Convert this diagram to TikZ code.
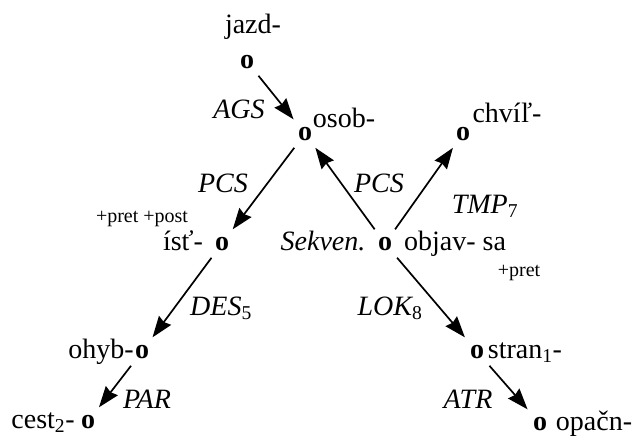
\documentclass[tikz,border=0pt]{standalone}
\usepackage{fontspec}
\setmainfont{Liberation Serif}
\usetikzlibrary{arrows.meta}
\newcommand{\lsub}[1]{\textsubscript{\upshape #1}}
\begin{document}
\begin{tikzpicture}[x=1pt,y=-1pt,
  pt/.style={inner sep=0.5pt, outer sep=7pt, anchor=base, font=\fontsize{28}{28}\selectfont\bfseries},
  lbl/.style={inner sep=0pt, anchor=base, font=\fontsize{28}{30}\selectfont},
  rel/.style={inner sep=0pt, anchor=base, font=\fontsize{28}{30}\selectfont\itshape},
  small/.style={inner sep=0pt, anchor=base, font=\fontsize{20}{22}\selectfont},
  edge/.style={line width=1.7pt, -{Stealth[length=21pt,width=15pt,inset=2pt]}}]
\useasboundingbox (0,0) rectangle (634,437);
% nodes
\node[pt] (jazd) at (247,68) {o};
\node[pt] (osob) at (305,140) {o};
\node[pt] (chvil) at (463,140) {o};
\node[pt] (ist) at (222,250) {o};
\node[pt] (objav) at (385,250) {o};
\node[pt] (ohyb) at (142,358) {o};
\node[pt] (cest) at (88,428) {o};
\node[pt] (stran) at (477,358) {o};
\node[pt] (opacn) at (540,430) {o};
% word labels
\node[lbl] (tjazd) at (253,33) {jazd-};
\node[lbl] (tosob) at (344,127) {osob-};
\node[lbl] (tchvil) at (507,122) {chvíľ-};
\node[lbl] (tist) at (183,250) {ísť-};
\node[small] (tpp) at (142,222) {+pret +post};
\node[rel] (tsek) at (323,250) {Sekven.};
\node[lbl] (tobjav) at (455,250) {objav- sa};
\node[small] (tpret) at (519,276) {+pret};
\node[lbl] (tohyb) at (101,358) {ohyb-};
\node[lbl] (tcest) at (43,428) {cest\lsub{2}-};
\node[lbl] (tstran) at (525,358) {stran\lsub{1}-};
\node[lbl] (topacn) at (594,430) {opačn-};
% relation labels
\node[rel] (lags) at (239,118) {AGS};
\node[rel] (lpcs1) at (223,192) {PCS};
\node[rel] (lpcs2) at (379,192) {PCS};
\node[rel] (ltmp) at (485,213) {TMP\lsub{7}};
\node[rel] (ldes) at (221,315) {DES\lsub{5}};
\node[rel] (llok) at (390,315) {LOK\lsub{8}};
\node[rel] (lpar) at (147,408) {PAR};
\node[rel] (latr) at (468,408) {ATR};
% edges
\draw[edge] (jazd) -- (osob);
\draw[edge] (osob) -- (ist);
\draw[edge] (objav) -- (osob);
\draw[edge] (objav) -- (chvil);
\draw[edge] (ist) -- (ohyb);
\draw[edge] (ohyb) -- (cest);
\draw[edge] (objav) -- (stran);
\draw[edge] (stran) -- (opacn);
\end{tikzpicture}
\end{document}
